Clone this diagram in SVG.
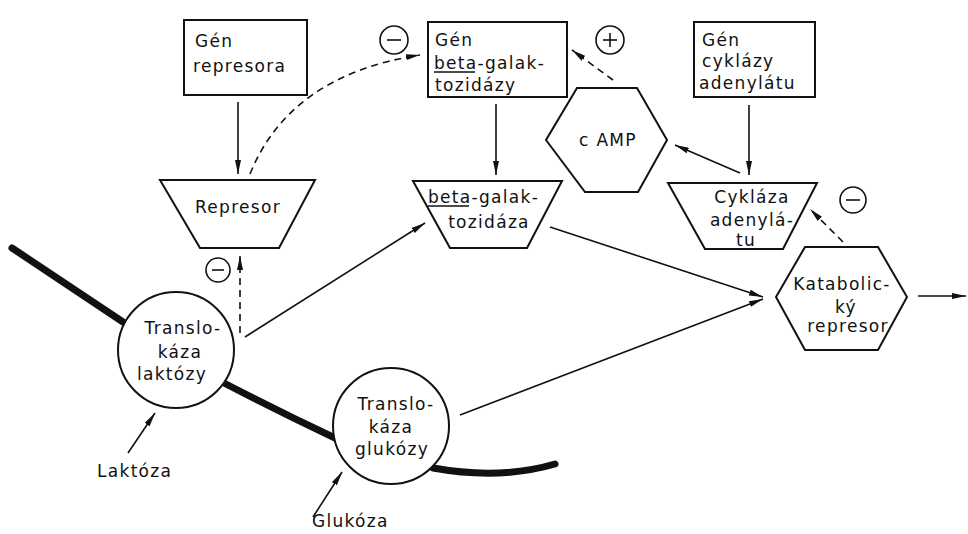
<svg xmlns="http://www.w3.org/2000/svg" width="968" height="534" viewBox="0 0 968 534">
<style>
.box{fill:#fff;stroke:#111;stroke-width:2}
.t{font-family:"DejaVu Sans",sans-serif;font-size:17px;fill:#111;letter-spacing:1.3px}
.c{text-anchor:middle}
.ln{stroke:#111;stroke-width:1.6;fill:none}
.dash{stroke-dasharray:7 5}
.mem{stroke:#111;stroke-width:7;fill:none;stroke-linecap:round}
.sg{fill:none;stroke:#111;stroke-width:1.6}
.ul{stroke:#111;stroke-width:1.4}
</style>
<defs>
<marker id="ah" viewBox="0 0 14 6" refX="14" refY="3" markerWidth="14" markerHeight="6" markerUnits="userSpaceOnUse" orient="auto">
<path d="M0,0 L14,3 L0,6 z" fill="#111"/>
</marker>
</defs>
<rect width="968" height="534" fill="#fff"/>
<g id="membrane">
<path class="mem" d="M12,248 L123,322"/>
<path class="mem" d="M224,383 Q280,412 335,438"/>
<path class="mem" d="M433,468 Q500,480 555,464"/>
</g>
<g id="connectors">
<line class="ln" x1="238" y1="102" x2="238" y2="174" marker-end="url(#ah)"/>
<line class="ln" x1="496" y1="104" x2="496" y2="175" marker-end="url(#ah)"/>
<line class="ln" x1="749" y1="105" x2="749" y2="175" marker-end="url(#ah)"/>
<path class="ln dash" d="M250,174 Q290,75 420,55" marker-end="url(#ah)"/>
<line class="ln dash" x1="613" y1="80" x2="572" y2="50" marker-end="url(#ah)"/>
<line class="ln" x1="740" y1="173" x2="675" y2="145" marker-end="url(#ah)"/>
<line class="ln dash" x1="843" y1="242" x2="810" y2="209" marker-end="url(#ah)"/>
<line class="ln dash" x1="240" y1="333" x2="240" y2="256" marker-end="url(#ah)"/>
<line class="ln" x1="245" y1="337" x2="425" y2="223" marker-end="url(#ah)"/>
<line class="ln" x1="550" y1="227" x2="763" y2="297" marker-end="url(#ah)"/>
<line class="ln" x1="460" y1="415" x2="763" y2="299" marker-end="url(#ah)"/>
<line class="ln" x1="918" y1="296" x2="966" y2="296" marker-end="url(#ah)"/>
<line class="ln" x1="128" y1="453" x2="155" y2="413" marker-end="url(#ah)"/>
<line class="ln" x1="313" y1="517" x2="342" y2="472" marker-end="url(#ah)"/>
</g>
<g id="signs">
<circle class="sg" cx="394" cy="40" r="14"/><line class="sg" x1="387" y1="40" x2="401" y2="40"/>
<circle class="sg" cx="610" cy="40" r="14"/><line class="sg" x1="603" y1="40" x2="617" y2="40"/><line class="sg" x1="610" y1="33" x2="610" y2="47"/>
<circle class="sg" cx="853" cy="200" r="13"/><line class="sg" x1="846" y1="200" x2="860" y2="200"/>
<circle class="sg" cx="218" cy="270" r="12"/><line class="sg" x1="212" y1="270" x2="224" y2="270"/>
</g>
<g id="gen-represora">
<rect class="box" x="184" y="20" width="123" height="75"/>
<text class="t" x="195" y="47">Gén</text>
<text class="t" x="193" y="72">represora</text>
</g>
<g id="gen-beta">
<rect class="box" x="428" y="22" width="139" height="75"/>
<text class="t" x="435" y="46">Gén</text>
<text class="t" x="434" y="69" letter-spacing="0.8">beta-galak-</text>
<text class="t" x="435" y="91">tozidázy</text>
<line class="ul" x1="434" y1="72" x2="475" y2="72"/>
</g>
<g id="gen-cyklazy">
<rect class="box" x="694" y="22" width="121" height="75"/>
<text class="t" x="702" y="46">Gén</text>
<text class="t" x="702" y="67">cyklázy</text>
<text class="t" x="699" y="89" letter-spacing="0.8">adenylátu</text>
</g>
<g id="represor">
<polygon class="box" points="160,180 315,180 279,248 200,248"/>
<text class="t c" x="238" y="213">Represor</text>
</g>
<g id="beta-galaktozidaza">
<polygon class="box" points="413,181 562,181 527,248 450,248"/>
<text class="t" x="428" y="203" letter-spacing="0.8">beta-galak-</text>
<text class="t c" x="489" y="228">tozidáza</text>
<line class="ul" x1="428" y1="206" x2="469" y2="206"/>
</g>
<g id="camp">
<polygon class="box" points="577,88 637,88 667,140 638,192 585,192 546,140"/>
<text class="t c" x="608" y="146">c AMP</text>
</g>
<g id="cyklaza">
<polygon class="box" points="668,183 817,183 783,249 705,249"/>
<text class="t c" x="752" y="203">Cykláza</text>
<text class="t c" x="752" y="226">adenylá-</text>
<text class="t c" x="746" y="246">tu</text>
</g>
<g id="katabolicky">
<polygon class="box" points="805,247 878,247 907,297 878,350 805,350 776,297"/>
<text class="t c" x="842" y="290" letter-spacing="0.3">Katabolic-</text>
<text class="t c" x="846" y="313">ký</text>
<text class="t c" x="848" y="332" letter-spacing="0.6">represor</text>
</g>
<g id="translokaza-laktozy">
<circle class="box" cx="176" cy="350" r="58"/>
<text class="t c" x="183" y="334" letter-spacing="0.6">Translo-</text>
<text class="t c" x="180" y="358">káza</text>
<text class="t c" x="172" y="380">laktózy</text>
</g>
<g id="translokaza-glukozy">
<circle class="box" cx="391" cy="426" r="58"/>
<text class="t c" x="396" y="410" letter-spacing="0.6">Translo-</text>
<text class="t c" x="391" y="433">káza</text>
<text class="t c" x="392" y="455">glukózy</text>
</g>
<g id="laktoza">
<text class="t" x="97" y="477">Laktóza</text>
</g>
<g id="glukoza">
<text class="t" x="312" y="527">Glukóza</text>
</g>
</svg>
